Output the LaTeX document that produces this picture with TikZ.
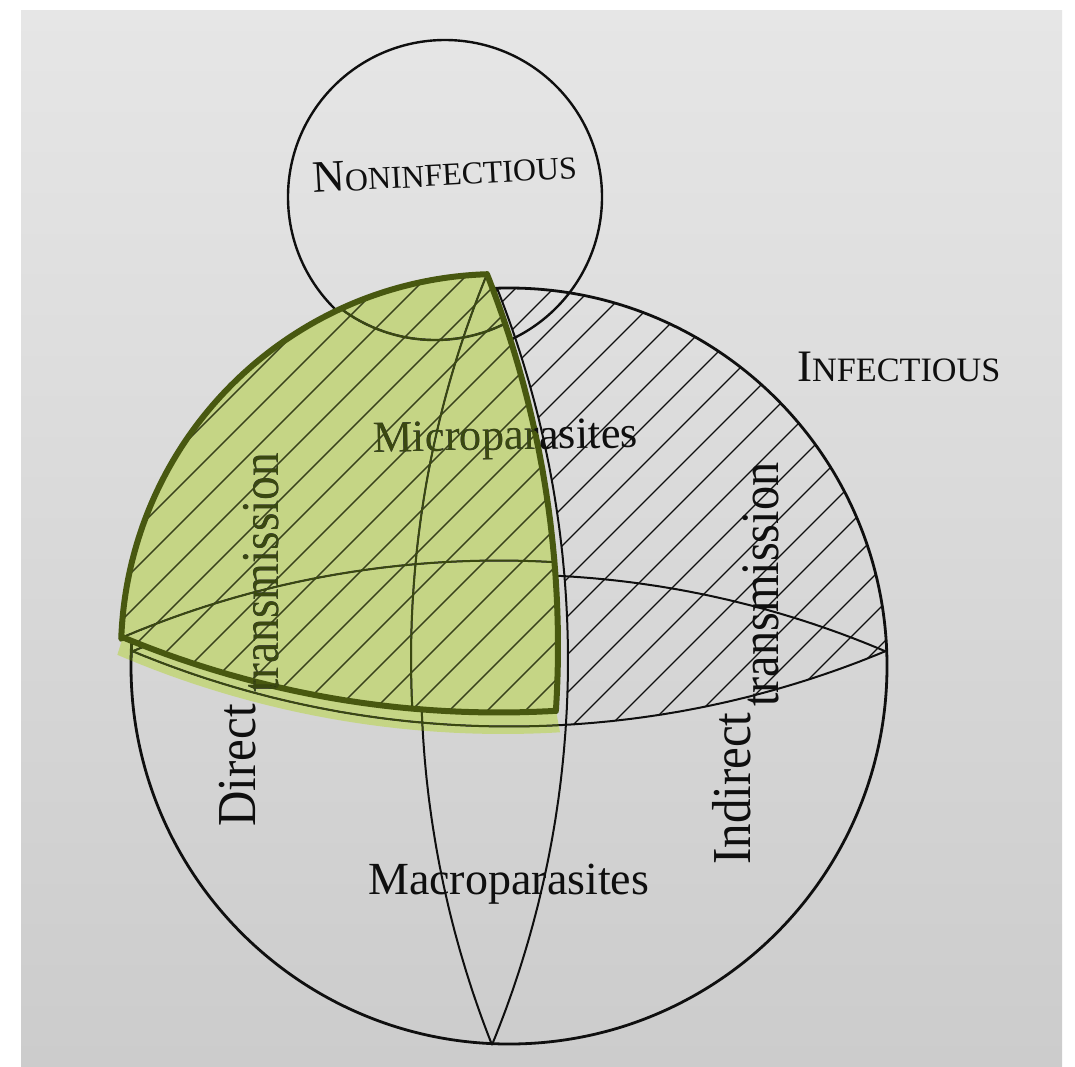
\documentclass[tikz,border=0pt]{standalone}
\usepackage{fontspec}
\setmainfont{Liberation Serif}
\usepackage{graphicx}
\definecolor{paperTop}{RGB}{230,230,230}
\definecolor{paperBot}{RGB}{204,204,204}
\definecolor{hlgreen}{RGB}{197,213,133}
\definecolor{hledge}{RGB}{72,88,16}
\definecolor{hlink}{RGB}{58,72,16}
\definecolor{ink}{RGB}{15,15,15}
\tikzset{
 outline/.style={draw=ink, line width=2.8pt},
 thinline/.style={draw=ink, line width=2pt},
 hatchline/.style={draw=ink, line width=1.3pt},
 wedgeedge/.style={draw=hledge, line width=6pt, line join=round},
 lbl/.style={inner sep=0pt, anchor=base west, text=ink},
}
% y-down pixel coordinates
\def\wedgepath{plot[domain=268.2:182,samples=90,variable=\t] ({509+378*cos(\t)},{666+378*sin(\t)}) -- plot[domain=112.6:86.66,samples=60,variable=\t] ({509+979*cos(\t)},{-252.5+979*sin(\t)}) -- plot[domain=3.67:-21.6,samples=60,variable=\t] ({-443.3+1011.3*cos(\t)},{660.3+1011.3*sin(\t)}) -- cycle}
\def\halopath{plot[domain=112.6:86.66,samples=60,variable=\t] ({499+979*cos(\t)},{-266.5+979*sin(\t)}) -- plot[domain=86.66:113.2,samples=60,variable=\t] ({503+979*cos(\t)},{-245+979*sin(\t)}) -- cycle}
\begin{document}
\begin{tikzpicture}[x=1pt,y=-1pt]
\useasboundingbox (0,0) rectangle (1075,1066);
\fill[white] (0,0) rectangle (1075,1066);
\shade[top color=paperTop,bottom color=paperBot] (21,10) rectangle (1062,1066);

% highlighter strip under the pulled-out wedge
\fill[hlgreen] \halopath;

% hatched upper-right quarter
\begin{scope}
\clip plot[domain=-21.6:3.67,samples=60,variable=\t] ({-443.3+1011.3*cos(\t)},{660.3+1011.3*sin(\t)}) -- plot[domain=86.66:67.33,samples=60,variable=\t] ({509+979*cos(\t)},{-252.5+979*sin(\t)}) -- plot[domain=357.57:268.2,samples=90,variable=\t] ({509+378*cos(\t)},{666+378*sin(\t)}) -- cycle;
\foreach \k in {-18,...,28} \draw[hatchline] ({1070+38*\k},0) -- ({1070+38*\k-1100},1100);
\end{scope}

% sphere
\draw[outline] (509,666) circle[radius=378pt];
\draw[thinline] plot[domain=67.33:112.6,samples=80,variable=\t] ({509+979*cos(\t)},{-252.5+979*sin(\t)});
\draw[thinline] plot[domain=246.9:293.05,samples=80,variable=\t] ({509+961.4*cos(\t)},{1535.9+961.4*sin(\t)});
\draw[thinline] plot[domain=-21.6:22.36,samples=80,variable=\t] ({-443.3+1011.3*cos(\t)},{660.3+1011.3*sin(\t)});
\draw[thinline] plot[domain=158.4:202.4,samples=80,variable=\t] ({1432.3+1011.3*cos(\t)},{672.7+1011.3*sin(\t)});
% noninfectious circle
\draw[thinline, line width=2.4pt] (445,197) circle[radius=157pt];

% pulled-out wedge
\begin{scope}[shift={(-10,-14)}]
\fill[hlgreen] \wedgepath;
\begin{scope}
\clip \wedgepath;
\foreach \k in {-18,...,28} \draw[hatchline] ({1070+38*\k},0) -- ({1070+38*\k-1100},1100);
\draw[thinline] plot[domain=246.9:275,samples=60,variable=\t] ({509+961.4*cos(\t)},{1535.9+961.4*sin(\t)});
\draw[thinline] plot[domain=177:202.4,samples=60,variable=\t] ({1432.3+1011.3*cos(\t)},{672.7+1011.3*sin(\t)});
\draw[thinline, line width=2.4pt] (445,197) circle[radius=157pt];
\end{scope}
\draw[wedgeedge] \wedgepath;
\end{scope}

% labels
\node[lbl, rotate=3.2, font=\fontsize{45}{54}\selectfont] (noninf) at (313,193) {N{\fontsize{31.9}{38}\selectfont ONINFECTIOUS}};
\node[lbl, font=\fontsize{45}{54}\selectfont] (inf) at (797,381) {I{\fontsize{34.2}{40}\selectfont NFECTIOUS}};
\node[lbl, rotate=1, font=\fontsize{44.6}{52}\selectfont] (micro) at (373,452) {Microparasites};
\node[lbl, font=\fontsize{46}{54}\selectfont] (macro) at (368,894) {Macroparasites};
\node[lbl, rotate=90, font=\fontsize{49}{56}\selectfont] (direct) at (255,827) {\scalebox{1}[1.12]{Direct}};
\node[lbl, rotate=90, font=\fontsize{47.5}{56}\selectfont] (dtrans) at (278,693) {\scalebox{1}[1.12]{transmission}};
\node[lbl, rotate=90, font=\fontsize{49}{56}\selectfont] (indirect) at (750,865) {\scalebox{1}[1.12]{Indirect}};
\node[lbl, rotate=90, font=\fontsize{48.3}{56}\selectfont] (itrans) at (778,707) {\scalebox{1}[1.12]{transmission}};

% highlighter tint over black ink
\begin{scope}[blend mode=lighten]
\fill[hlink] \halopath;
\begin{scope}[shift={(-10,-14)}]
\fill[hlink] \wedgepath;
\end{scope}
\end{scope}
\end{tikzpicture}
\end{document}
